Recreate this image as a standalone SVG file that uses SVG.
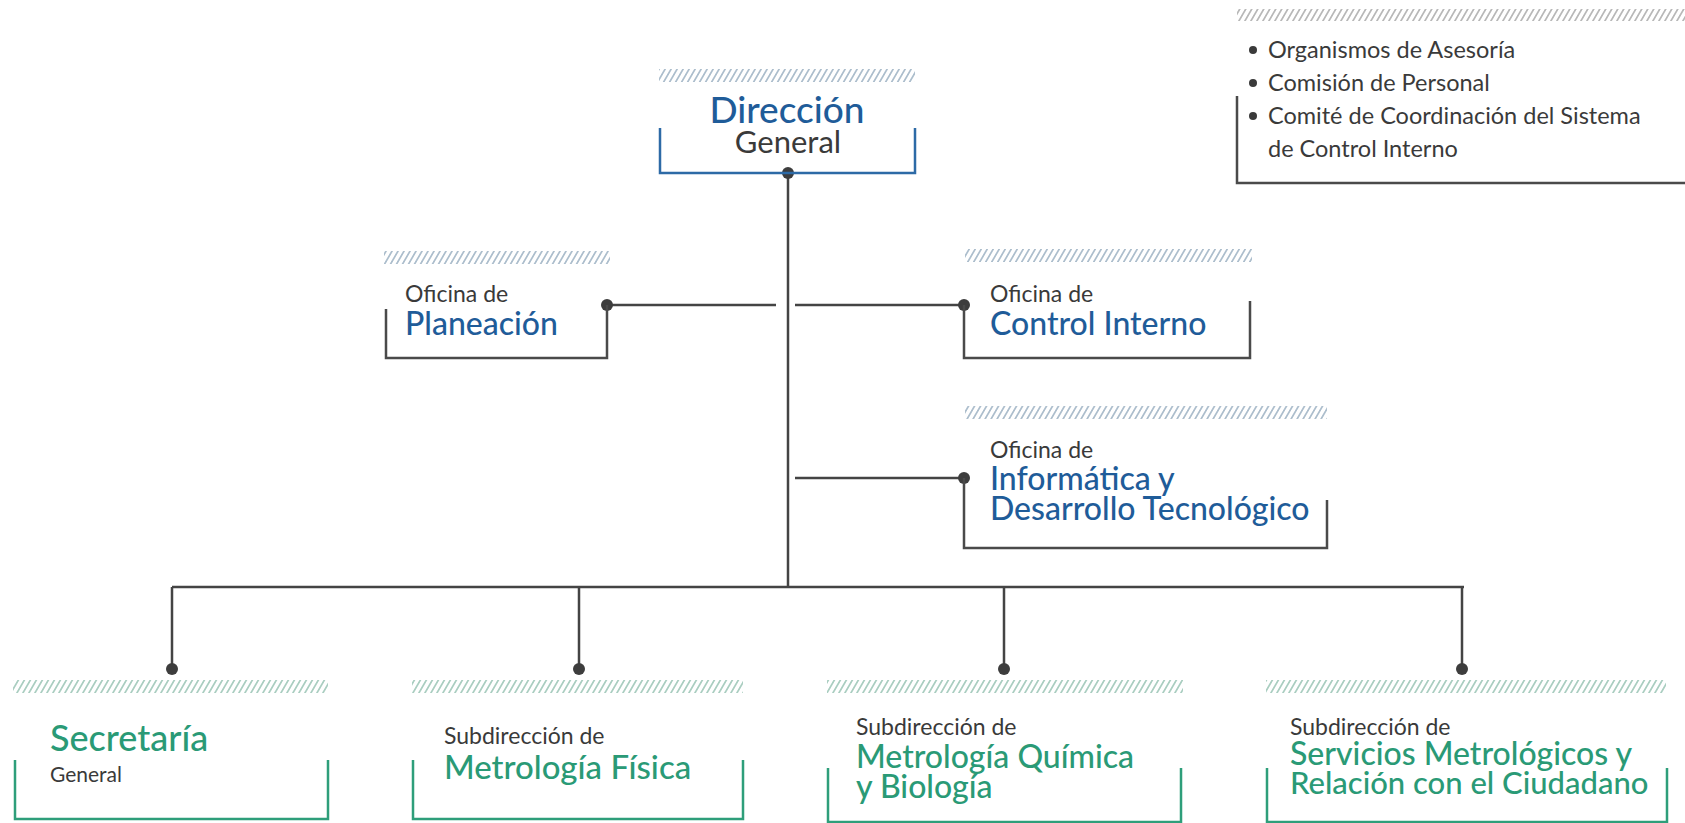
<svg xmlns="http://www.w3.org/2000/svg" width="1685" height="823" viewBox="0 0 1685 823">
<defs>
<pattern id="hB" width="6" height="14" patternUnits="userSpaceOnUse" patternTransform="skewX(-30)">
<line x1="3" y1="0" x2="3" y2="14" stroke="#8aa3b8" stroke-width="1.4"/>
</pattern>
<pattern id="hG" width="6" height="14" patternUnits="userSpaceOnUse" patternTransform="skewX(-30)">
<line x1="3" y1="0" x2="3" y2="14" stroke="#86b9a6" stroke-width="1.4"/>
</pattern>
<pattern id="hK" width="6" height="14" patternUnits="userSpaceOnUse" patternTransform="skewX(-30)">
<line x1="3" y1="0" x2="3" y2="14" stroke="#9a9a9a" stroke-width="1.4"/>
</pattern>
</defs>
<style>
text{font-family:Lato,"Open Sans","Liberation Sans",sans-serif;}
.sm{fill:#3a3a3a;font-size:23px;}
.bl{fill:#1f5c99;font-size:32px;font-weight:500;}
.gr{fill:#2a9a76;font-size:33px;font-weight:500;}
.lg{fill:#3a3a3a;font-size:23.5px;}
.bxB{fill:none;stroke:#2d6aa6;stroke-width:2.5;}
.bxK{fill:none;stroke:#4a4a4a;stroke-width:2.5;}
.bxG{fill:none;stroke:#2e9e7a;stroke-width:2.5;}
.ln{fill:none;stroke:#444;stroke-width:2.5;}
.dot{fill:#3d3d3d;}
</style>
<rect width="1685" height="823" fill="#fff"/>

<g id="connectors">
<path class="ln" d="M788,173 V587"/>
<path class="ln" d="M607,305 H776"/>
<path class="ln" d="M795,305 H964"/>
<path class="ln" d="M795,478 H964"/>
<path class="ln" d="M172,587 H1464"/>
<path class="ln" d="M172,587 V669 M579,587 V669 M1004,587 V669 M1462,587 V669"/>
<circle class="dot" cx="788" cy="173" r="6"/>
<circle class="dot" cx="607" cy="305" r="6"/>
<circle class="dot" cx="964" cy="305" r="6"/>
<circle class="dot" cx="964" cy="478" r="6"/>
<circle class="dot" cx="172" cy="669" r="6"/>
<circle class="dot" cx="579" cy="669" r="6"/>
<circle class="dot" cx="1004" cy="669" r="6"/>
<circle class="dot" cx="1462" cy="669" r="6"/>
</g>

<g id="legend">
<rect x="1237" y="9" width="448" height="12" fill="url(#hK)"/>
<path class="bxK" d="M1237,96 V183 H1685"/>
<circle cx="1253" cy="50" r="4" fill="#3a3a3a"/>
<circle cx="1253" cy="83" r="4" fill="#3a3a3a"/>
<circle cx="1253" cy="116" r="4" fill="#3a3a3a"/>
<text class="lg" x="1268" y="58">Organismos de Asesoría</text>
<text class="lg" x="1268" y="91">Comisión de Personal</text>
<text class="lg" x="1268" y="124">Comité de Coordinación del Sistema</text>
<text class="lg" x="1268" y="157">de Control Interno</text>
</g>

<g id="direccion">
<rect x="659" y="69" width="256" height="13" fill="url(#hB)"/>
<path class="bxB" d="M660,128 V173 H915 V128"/>
<text class="bl" x="787" y="123" text-anchor="middle" style="font-size:37px">Dirección</text>
<text x="788" y="153" text-anchor="middle" style="fill:#3a3a3a;font-size:31px">General</text>
</g>

<g id="planeacion">
<rect x="384" y="251" width="226" height="13" fill="url(#hB)"/>
<path class="bxK" d="M386,309 V358 H607 V305"/>
<text class="sm" x="405" y="302">Oficina de</text>
<text class="bl" x="405" y="335">Planeación</text>
</g>

<g id="control-interno">
<rect x="965" y="249" width="287" height="13" fill="url(#hB)"/>
<path class="bxK" d="M964,305 V358 H1250 V301"/>
<text class="sm" x="990" y="302">Oficina de</text>
<text class="bl" x="990" y="335">Control Interno</text>
</g>

<g id="informatica">
<rect x="965" y="406" width="362" height="13" fill="url(#hB)"/>
<path class="bxK" d="M964,478 V548 H1327 V500"/>
<text class="sm" x="990" y="458">Oficina de</text>
<text class="bl" x="990" y="490">Informática y</text>
<text class="bl" x="990" y="520">Desarrollo Tecnológico</text>
</g>

<g id="secretaria">
<rect x="13" y="680" width="315" height="13" fill="url(#hG)"/>
<path class="bxG" d="M15,760 V819 H328 V760"/>
<text class="gr" x="50" y="751" style="font-size:36px">Secretaría</text>
<text x="50" y="782" style="fill:#3a3a3a;font-size:21px">General</text>
</g>

<g id="metrologia-fisica">
<rect x="412" y="680" width="331" height="13" fill="url(#hG)"/>
<path class="bxG" d="M413,760 V819 H743 V760"/>
<text class="sm" x="444" y="744">Subdirección de</text>
<text class="gr" x="444" y="779">Metrología Física</text>
</g>

<g id="metrologia-quimica">
<rect x="827" y="680" width="356" height="13" fill="url(#hG)"/>
<path class="bxG" d="M828,768 V822 H1181 V768"/>
<text class="sm" x="856" y="735">Subdirección de</text>
<text class="gr" x="856" y="768" style="font-size:32px">Metrología Química</text>
<text class="gr" x="856" y="798" style="font-size:32px">y Biología</text>
</g>

<g id="servicios">
<rect x="1266" y="680" width="400" height="13" fill="url(#hG)"/>
<path class="bxG" d="M1267,768 V822 H1667 V768"/>
<text class="sm" x="1290" y="735">Subdirección de</text>
<text class="gr" x="1290" y="765" style="font-size:32px">Servicios Metrológicos y</text>
<text class="gr" x="1290" y="794" style="font-size:31px">Relación con el Ciudadano</text>
</g>
</svg>
